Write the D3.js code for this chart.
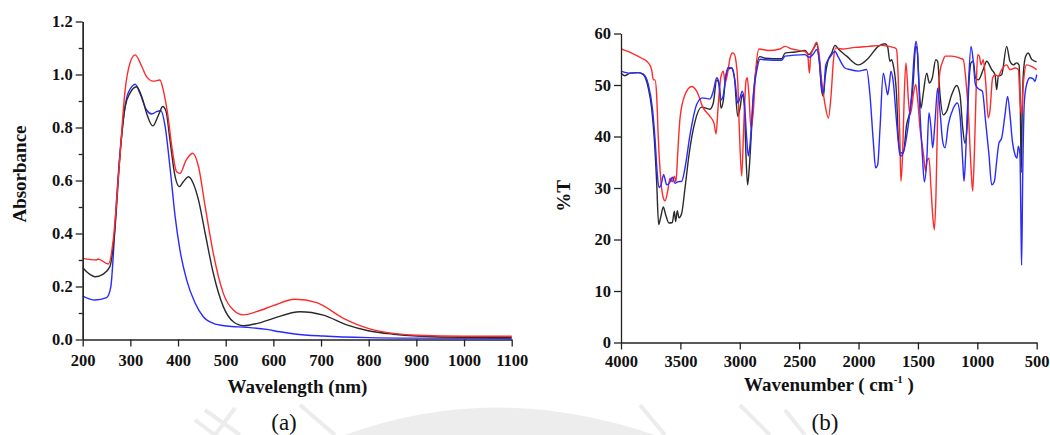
<!DOCTYPE html>
<html>
<head>
<meta charset="utf-8">
<script src="https://cdn.jsdelivr.net/npm/d3@7"></script>
<style>
  body { margin: 0; background: #fff; }
  svg { display: block; }
  .tick text { font-family: "Liberation Serif", "Times New Roman", serif; font-weight: bold; font-size: 16.5px; fill: #111; }
  .axis path, .axis line { stroke: #222; stroke-width: 1.3; }
  .title { font-family: "Liberation Serif", "Times New Roman", serif; font-weight: bold; font-size: 19px; fill: #111; }
  .panel { font-family: "Liberation Serif", "Times New Roman", serif; font-size: 23px; fill: #111; }
</style>
</head>
<body>
<svg id="chart" width="1050" height="435"></svg>
<script>
// (a) UV-vis absorbance, [wavelength nm, absorbance]
const uvRed = [[200,0.306],[229,0.300],[232,0.304],[254,0.285],[264,0.375],[277,0.665],[289,0.941],[299,1.042],[310,1.074],[324,1.03],[334,0.992],[348,0.975],[362,0.979],[369,0.941],[378,0.854],[387,0.728],[397,0.633],[404,0.627],[417,0.677],[431,0.703],[443,0.652],[457,0.501],[474,0.325],[495,0.174],[516,0.111],[537,0.093],[565,0.105],[600,0.128],[645,0.152],[691,0.139],[747,0.080],[799,0.042],[852,0.023],[901,0.016],[998,0.012],[1100,0.012]];
const uvBlack = [[200,0.271],[212,0.250],[226,0.237],[243,0.247],[257,0.275],[268,0.426],[278,0.69],[289,0.878],[299,0.929],[313,0.954],[324,0.916],[334,0.854],[347,0.806],[359,0.847],[368,0.879],[375,0.860],[383,0.753],[394,0.614],[403,0.577],[411,0.595],[422,0.614],[432,0.589],[443,0.526],[457,0.40],[474,0.25],[495,0.124],[516,0.067],[537,0.052],[565,0.060],[600,0.080],[656,0.105],[705,0.092],[754,0.055],[799,0.033],[852,0.020],[901,0.013],[998,0.008],[1100,0.008]];
const uvBlue = [[200,0.164],[226,0.149],[250,0.158],[259,0.199],[264,0.312],[271,0.526],[282,0.778],[292,0.91],[303,0.954],[310,0.963],[320,0.929],[334,0.866],[345,0.851],[355,0.86],[364,0.863],[373,0.803],[383,0.652],[394,0.463],[404,0.338],[418,0.225],[436,0.137],[453,0.086],[474,0.061],[502,0.051],[544,0.046],[586,0.038],[614,0.029],[645,0.021],[705,0.013],[799,0.007],[901,0.005],[1100,0.004]];

// (b) FTIR, [wavenumber cm-1, %T]
const irBlack = [[4000,52.3],[3966,51.8],[3924,52.3],[3854,52.4],[3812,52.0],[3770,49.4],[3742,45.5],[3720,39.7],[3700,31.3],[3683,22.9],[3667,24.2],[3644,26.3],[3624,24.8],[3596,23.2],[3568,23.3],[3551,25.5],[3540,23.5],[3526,25.6],[3512,24.2],[3489,25.1],[3461,30.0],[3427,36.5],[3377,42.9],[3321,45.7],[3251,45.3],[3223,46.5],[3194,51.0],[3175,50.1],[3158,45.5],[3138,47.1],[3119,51.4],[3097,53.0],[3068,53.3],[3046,51.7],[3017,43.9],[2998,45.5],[2979,48.1],[2962,46.2],[2948,36.5],[2934,30.6],[2920,33.9],[2900,41.7],[2872,51.4],[2830,55.5],[2788,55.2],[2647,55.1],[2619,56.2],[2535,56.4],[2451,56.7],[2417,55.9],[2381,57.0],[2352,58.0],[2330,54.6],[2310,48.8],[2296,47.8],[2282,51.4],[2259,54.6],[2226,56.2],[2198,57.7],[2170,57.0],[2100,55.6],[2002,53.9],[1918,55.2],[1834,57.5],[1777,58.0],[1755,57.4],[1736,54.6],[1722,54.9],[1708,53.9],[1680,48.1],[1665,39.7],[1643,36.8],[1623,36.9],[1595,42.3],[1567,44.9],[1539,50.7],[1519,57.5],[1508,57.2],[1491,50.1],[1474,45.5],[1455,48.4],[1426,52.3],[1404,50.4],[1379,51.4],[1350,54.9],[1334,54.6],[1314,48.1],[1286,44.2],[1258,44.9],[1216,48.1],[1174,49.9],[1146,48.1],[1123,41.7],[1104,38.7],[1087,41.7],[1070,50.7],[1053,54.3],[1034,54.6],[1016,51.4],[992,51.0],[950,53.0],[921,54.6],[879,53.0],[851,52.0],[837,49.1],[823,51.7],[795,52.0],[753,57.5],[725,54.6],[697,53.9],[669,54.3],[649,53.9],[638,46.0],[630,33.0],[622,45.0],[613,52.0],[593,55.6],[571,56.2],[543,55.0],[500,54.5]];
const irBlue = [[4000,52.7],[3924,52.3],[3854,52.4],[3812,52.1],[3770,50.1],[3736,45.5],[3714,39.7],[3694,32.6],[3680,30.1],[3663,30.6],[3641,32.6],[3615,30.6],[3587,31.2],[3568,32.1],[3545,30.9],[3523,31.2],[3489,31.3],[3461,33.9],[3419,40.3],[3363,46.2],[3315,47.5],[3251,47.3],[3223,48.8],[3194,51.4],[3175,50.4],[3158,47.1],[3138,48.1],[3116,52.0],[3097,53.4],[3068,53.3],[3040,50.7],[3017,46.5],[2998,47.5],[2979,48.8],[2962,46.9],[2942,39.7],[2928,36.2],[2911,39.1],[2886,48.1],[2858,52.7],[2830,55.0],[2788,54.9],[2647,54.8],[2619,55.6],[2451,55.9],[2417,55.4],[2381,56.0],[2352,56.9],[2330,54.6],[2310,49.4],[2296,48.4],[2276,53.9],[2240,55.4],[2198,56.5],[2170,55.4],[2114,53.3],[2072,53.0],[2002,52.7],[1932,53.0],[1904,48.1],[1876,39.1],[1856,33.9],[1839,34.5],[1819,41.7],[1792,52.3],[1772,50.1],[1755,48.1],[1741,50.1],[1727,52.7],[1708,50.7],[1680,42.9],[1652,36.5],[1643,36.2],[1623,36.9],[1581,42.3],[1553,48.1],[1531,55.9],[1516,58.5],[1502,55.9],[1483,44.9],[1463,36.5],[1446,31.2],[1426,35.2],[1407,44.6],[1390,41.7],[1376,37.8],[1356,42.9],[1334,49.4],[1314,44.9],[1292,39.1],[1272,37.8],[1244,42.3],[1202,45.5],[1168,46.5],[1146,44.2],[1123,35.2],[1112,31.3],[1098,36.5],[1076,49.4],[1053,57.5],[1034,54.6],[1016,50.1],[992,49.3],[958,48.8],[930,42.9],[902,36.5],[879,30.6],[857,31.2],[837,35.2],[818,38.7],[795,39.7],[767,44.2],[745,47.8],[725,44.2],[705,39.1],[683,36.5],[666,35.8],[655,38.1],[641,36.5],[632,22.2],[627,15.0],[618,31.9],[604,46.8],[585,50.1],[557,51.4],[529,51.2],[514,50.7],[500,52.0]];
const irRed = [[4000,57.0],[3910,56.2],[3826,55.2],[3770,54.3],[3742,53.0],[3728,51.0],[3714,51.0],[3700,48.1],[3686,39.7],[3666,31.9],[3644,28.1],[3629,27.5],[3607,29.4],[3587,31.9],[3568,31.2],[3551,32.3],[3537,31.2],[3523,36.5],[3503,43.6],[3461,48.1],[3405,49.7],[3363,48.8],[3307,45.5],[3251,43.9],[3217,42.6],[3200,40.5],[3181,46.2],[3158,51.7],[3138,52.7],[3124,50.4],[3105,52.0],[3082,55.2],[3062,56.2],[3046,56.0],[3032,54.6],[3017,50.7],[3004,41.7],[2984,32.3],[2967,41.7],[2948,50.7],[2937,51.4],[2923,48.1],[2906,41.7],[2886,44.9],[2866,52.7],[2838,57.0],[2760,56.7],[2662,57.0],[2619,57.5],[2563,57.0],[2451,56.5],[2428,55.9],[2414,52.3],[2403,55.6],[2381,57.0],[2352,58.3],[2333,56.2],[2310,50.7],[2282,46.2],[2254,43.6],[2231,48.1],[2212,54.6],[2192,57.2],[2142,57.0],[2030,57.3],[1918,57.5],[1806,57.7],[1694,57.2],[1680,56.9],[1666,51.4],[1652,39.7],[1643,31.3],[1629,36.5],[1615,48.1],[1601,54.3],[1580,47.1],[1567,44.2],[1553,45.5],[1539,48.1],[1519,50.1],[1502,47.1],[1483,41.7],[1455,36.9],[1435,33.2],[1424,35.2],[1407,35.8],[1390,30.0],[1376,24.8],[1362,21.9],[1348,28.7],[1334,44.2],[1314,52.7],[1286,54.9],[1272,55.6],[1216,55.6],[1146,55.2],[1118,54.9],[1098,51.4],[1076,44.9],[1053,33.9],[1039,29.4],[1025,36.5],[1011,48.1],[997,55.9],[983,55.6],[969,53.9],[950,54.9],[930,50.7],[908,43.6],[894,44.9],[871,51.4],[851,52.0],[823,51.7],[795,53.0],[753,53.9],[725,53.0],[683,53.3],[655,53.0],[638,46.2],[627,44.2],[613,50.1],[585,53.9],[543,53.6],[500,53.0]];

// tick labels
const uvXTicks = [200, 300, 400, 500, 600, 700, 800, 900, 1000, 1100];
const uvYTicks = [0, 0.2, 0.4, 0.6, 0.8, 1.0, 1.2];
const uvYMinor = [0.1, 0.3, 0.5, 0.7, 0.9, 1.1];
const irXTicks = [4000, 3500, 3000, 2500, 2000, 1500, 1000, 500];
const irYTicks = [0, 10, 20, 30, 40, 50, 60];

const colors = { red: "#ff2a2a", black: "#2a2a2a", blue: "#2a2aff" };

const svg = d3.select("#chart");

// faint watermark from the scanned page
const wm = svg.append("g").attr("fill", "none").attr("stroke", "#ececec");
wm.append("path").attr("fill", "#ededed").attr("stroke", "none")
  .attr("d", "M345,435 Q495,380 655,435 Z");
[[195, 420, 215, 435], [205, 410, 240, 435], [235, 408, 215, 435], [300, 405, 335, 435],
 [640, 405, 665, 435], [740, 405, 770, 435], [785, 410, 805, 435]].forEach(d => {
  wm.append("line").attr("x1", d[0]).attr("y1", d[1]).attr("x2", d[2]).attr("y2", d[3])
    .attr("stroke-width", 4);
});

function drawLines(g, x, y, series, curve) {
  const line = d3.line().x(d => x(d[0])).y(d => y(d[1])).curve(curve);
  series.forEach(s => {
    g.append("path")
      .datum(s.data)
      .attr("fill", "none")
      .attr("stroke", s.color)
      .attr("stroke-width", 1.4)
      .attr("stroke-linejoin", "round")
      .attr("d", line);
  });
}

// ----- (a) -----
const x1 = d3.scaleLinear().domain([200, 1100]).range([82.7, 511.7]);
const y1 = d3.scaleLinear().domain([0, 1.2]).range([339.5, 21.5]);

const gA = svg.append("g");
drawLines(gA, x1, y1, [
  { data: uvBlue, color: colors.blue },
  { data: uvBlack, color: colors.black },
  { data: uvRed, color: colors.red },
], d3.curveMonotoneX);

gA.append("g").attr("class", "axis")
  .attr("transform", "translate(" + x1.range()[0] + ",0)")
  .call(d3.axisLeft(y1).tickValues(uvYMinor).tickSize(4).tickSizeOuter(0).tickFormat(""));
gA.append("g").attr("class", "axis")
  .attr("transform", "translate(" + x1.range()[0] + ",0)")
  .call(d3.axisLeft(y1).tickValues(uvYTicks).tickSize(7).tickSizeOuter(0).tickPadding(3).tickFormat(d3.format(".1f")));
gA.append("g").attr("class", "axis")
  .attr("transform", "translate(0," + y1.range()[0] + ")")
  .call(d3.axisBottom(x1).tickValues(uvXTicks).tickSize(7).tickSizeOuter(0).tickPadding(8).tickFormat(d3.format("d")));

gA.append("text").attr("class", "title")
  .attr("text-anchor", "middle")
  .attr("transform", "translate(25.5,174) rotate(-90)")
  .text("Absorbance");
gA.append("text").attr("class", "title")
  .attr("x", 297.5).attr("y", 393).attr("text-anchor", "middle")
  .text("Wavelength (nm)");
gA.append("text").attr("class", "panel")
  .attr("x", 284).attr("y", 430).attr("text-anchor", "middle")
  .text("(a)");

// ----- (b) -----
const x2 = d3.scaleLinear().domain([4000, 500]).range([621, 1036.7]);
const y2 = d3.scaleLinear().domain([0, 60]).range([342.5, 33.5]);

const gB = svg.append("g");
drawLines(gB, x2, y2, [
  { data: irBlack, color: colors.black },
  { data: irRed, color: colors.red },
  { data: irBlue, color: colors.blue },
], d3.curveMonotoneX);

gB.append("g").attr("class", "axis")
  .attr("transform", "translate(" + x2.range()[0] + ",0)")
  .call(d3.axisLeft(y2).tickValues(irYTicks).tickSize(7).tickSizeOuter(0).tickPadding(3).tickFormat(d3.format("d")));
gB.append("g").attr("class", "axis")
  .attr("transform", "translate(0," + y2.range()[0] + ")")
  .call(d3.axisBottom(x2).tickValues(irXTicks).tickSize(7).tickSizeOuter(0).tickPadding(6).tickFormat(d3.format("d")));

gB.append("text").attr("class", "title")
  .attr("text-anchor", "middle")
  .attr("transform", "translate(570,196) rotate(-90)")
  .text("%T");
const wn = gB.append("text").attr("class", "title")
  .attr("x", 829).attr("y", 391).attr("text-anchor", "middle");
wn.append("tspan").text("Wavenumber ( cm");
wn.append("tspan").attr("dy", -8).attr("font-size", "11px").text("-1");
wn.append("tspan").attr("dy", 8).text(" )");
gB.append("text").attr("class", "panel")
  .attr("x", 825).attr("y", 430).attr("text-anchor", "middle")
  .text("(b)");
</script>
</body>
</html>
